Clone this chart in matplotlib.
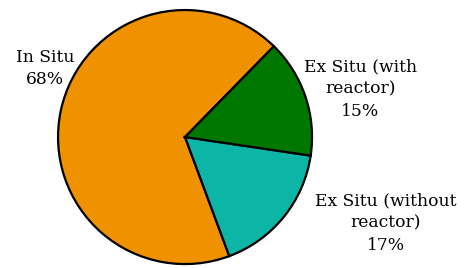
import matplotlib
matplotlib.use("Agg")
import matplotlib.pyplot as plt

labels = ['In Situ\n68%', 'Ex Situ (without\nreactor)\n17%', 'Ex Situ (with\nreactor)\n15%']
shares = [68, 17, 15]
colors = ['#F09100', '#0DB5A6', '#007800']
label_pos = [(-1.10, 0.54), (1.58, -0.677), (1.38, 0.378)]

fig = plt.figure(figsize=(4.69, 2.68), dpi=100)
ax = fig.add_axes([0, 0, 1, 1])
ax.pie(shares, colors=colors, startangle=45.6, counterclock=True, radius=1,
       wedgeprops=dict(edgecolor='black', linewidth=1.6))
for lab, (x, y) in zip(labels, label_pos):
    ax.text(x, y, lab, ha='center', va='center', fontsize=12.3,
            family='DejaVu Serif', linespacing=1.4)
ax.set_xlim(-1.457, 2.236)
ax.set_ylim(-1.031, 1.079)
ax.set_aspect('auto')
ax.axis('off')
fig.savefig('out.png', dpi=100)
